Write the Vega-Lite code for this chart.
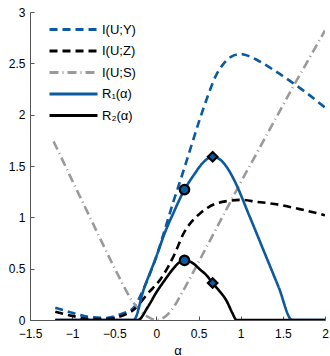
{
  "$schema": "https://vega.github.io/schema/vega-lite/v6.json",
  "autosize": {"type": "none"},
  "width": 295,
  "height": 308,
  "padding": {"left": 30, "top": 12, "right": 5, "bottom": 36},
  "config": {
    "view": {"stroke": null},
    "font": "Liberation Sans",
    "axis": {"grid": false, "domainColor": "#555555", "tickColor": "#555555", "labelColor": "#000000", "labelFontSize": 12, "titleFontSize": 13, "titleFontWeight": "normal", "tickSize": -4, "labelPadding": 8, "domainWidth": 1, "labelFlush": false}
  },
  "datasets": {
    "curves": [
      {"s": "I(U;Y)", "a": -1.2, "v": 0.12}, {"s": "I(U;Y)", "a": -1.0, "v": 0.07}, {"s": "I(U;Y)", "a": -0.8, "v": 0.03}, {"s": "I(U;Y)", "a": -0.6, "v": 0.02}, {"s": "I(U;Y)", "a": -0.45, "v": 0.05}, {"s": "I(U;Y)", "a": -0.35, "v": 0.08}, {"s": "I(U;Y)", "a": -0.27, "v": 0.12}, {"s": "I(U;Y)", "a": -0.15, "v": 0.31}, {"s": "I(U;Y)", "a": 0.0, "v": 0.62}, {"s": "I(U;Y)", "a": 0.1, "v": 0.88}, {"s": "I(U;Y)", "a": 0.2, "v": 1.15}, {"s": "I(U;Y)", "a": 0.3, "v": 1.4}, {"s": "I(U;Y)", "a": 0.4, "v": 1.66}, {"s": "I(U;Y)", "a": 0.5, "v": 1.92}, {"s": "I(U;Y)", "a": 0.6, "v": 2.16}, {"s": "I(U;Y)", "a": 0.7, "v": 2.37}, {"s": "I(U;Y)", "a": 0.8, "v": 2.5}, {"s": "I(U;Y)", "a": 0.9, "v": 2.57}, {"s": "I(U;Y)", "a": 1.0, "v": 2.59}, {"s": "I(U;Y)", "a": 1.1, "v": 2.57}, {"s": "I(U;Y)", "a": 1.2, "v": 2.53}, {"s": "I(U;Y)", "a": 1.4, "v": 2.43}, {"s": "I(U;Y)", "a": 1.6, "v": 2.32}, {"s": "I(U;Y)", "a": 1.8, "v": 2.2}, {"s": "I(U;Y)", "a": 2.0, "v": 2.07},
      {"s": "I(U;Z)", "a": -1.2, "v": 0.08}, {"s": "I(U;Z)", "a": -1.0, "v": 0.04}, {"s": "I(U;Z)", "a": -0.8, "v": 0.01}, {"s": "I(U;Z)", "a": -0.6, "v": 0.01}, {"s": "I(U;Z)", "a": -0.45, "v": 0.03}, {"s": "I(U;Z)", "a": -0.35, "v": 0.06}, {"s": "I(U;Z)", "a": -0.27, "v": 0.1}, {"s": "I(U;Z)", "a": -0.1, "v": 0.26}, {"s": "I(U;Z)", "a": 0.05, "v": 0.4}, {"s": "I(U;Z)", "a": 0.14, "v": 0.52}, {"s": "I(U;Z)", "a": 0.22, "v": 0.65}, {"s": "I(U;Z)", "a": 0.32, "v": 0.84}, {"s": "I(U;Z)", "a": 0.42, "v": 0.96}, {"s": "I(U;Z)", "a": 0.52, "v": 1.04}, {"s": "I(U;Z)", "a": 0.62, "v": 1.1}, {"s": "I(U;Z)", "a": 0.73, "v": 1.14}, {"s": "I(U;Z)", "a": 0.85, "v": 1.16}, {"s": "I(U;Z)", "a": 1.0, "v": 1.17}, {"s": "I(U;Z)", "a": 1.2, "v": 1.15}, {"s": "I(U;Z)", "a": 1.4, "v": 1.13}, {"s": "I(U;Z)", "a": 1.7, "v": 1.08}, {"s": "I(U;Z)", "a": 2.0, "v": 1.02},
      {"s": "I(U;S)", "a": -1.22, "v": 1.74}, {"s": "I(U;S)", "a": -1.0, "v": 1.36}, {"s": "I(U;S)", "a": -0.8, "v": 1.02}, {"s": "I(U;S)", "a": -0.66, "v": 0.78}, {"s": "I(U;S)", "a": -0.5, "v": 0.51}, {"s": "I(U;S)", "a": -0.4, "v": 0.35}, {"s": "I(U;S)", "a": -0.3, "v": 0.2}, {"s": "I(U;S)", "a": -0.2, "v": 0.1}, {"s": "I(U;S)", "a": -0.1, "v": 0.03}, {"s": "I(U;S)", "a": 0.0, "v": 0.0}, {"s": "I(U;S)", "a": 0.1, "v": 0.03}, {"s": "I(U;S)", "a": 0.2, "v": 0.12}, {"s": "I(U;S)", "a": 0.3, "v": 0.26}, {"s": "I(U;S)", "a": 0.4, "v": 0.41}, {"s": "I(U;S)", "a": 0.6, "v": 0.72}, {"s": "I(U;S)", "a": 0.8, "v": 1.03}, {"s": "I(U;S)", "a": 1.0, "v": 1.34}, {"s": "I(U;S)", "a": 1.2, "v": 1.64}, {"s": "I(U;S)", "a": 1.4, "v": 1.94}, {"s": "I(U;S)", "a": 1.6, "v": 2.24}, {"s": "I(U;S)", "a": 1.8, "v": 2.53}, {"s": "I(U;S)", "a": 2.0, "v": 2.82},
      {"s": "R₁(α)", "a": -1.2, "v": 0}, {"s": "R₁(α)", "a": -0.27, "v": 0}, {"s": "R₁(α)", "a": -0.15, "v": 0.3}, {"s": "R₁(α)", "a": 0.0, "v": 0.62}, {"s": "R₁(α)", "a": 0.1, "v": 0.85}, {"s": "R₁(α)", "a": 0.2, "v": 1.04}, {"s": "R₁(α)", "a": 0.333, "v": 1.27}, {"s": "R₁(α)", "a": 0.45, "v": 1.42}, {"s": "R₁(α)", "a": 0.55, "v": 1.53}, {"s": "R₁(α)", "a": 0.667, "v": 1.59}, {"s": "R₁(α)", "a": 0.76, "v": 1.56}, {"s": "R₁(α)", "a": 0.85, "v": 1.47}, {"s": "R₁(α)", "a": 0.93, "v": 1.35}, {"s": "R₁(α)", "a": 1.1, "v": 1.02}, {"s": "R₁(α)", "a": 1.27, "v": 0.68}, {"s": "R₁(α)", "a": 1.45, "v": 0.32}, {"s": "R₁(α)", "a": 1.61, "v": 0}, {"s": "R₁(α)", "a": 2.0, "v": 0},
      {"s": "R₂(α)", "a": -1.2, "v": 0}, {"s": "R₂(α)", "a": -0.22, "v": 0}, {"s": "R₂(α)", "a": -0.1, "v": 0.13}, {"s": "R₂(α)", "a": 0.0, "v": 0.27}, {"s": "R₂(α)", "a": 0.1, "v": 0.39}, {"s": "R₂(α)", "a": 0.2, "v": 0.5}, {"s": "R₂(α)", "a": 0.27, "v": 0.56}, {"s": "R₂(α)", "a": 0.333, "v": 0.58}, {"s": "R₂(α)", "a": 0.42, "v": 0.56}, {"s": "R₂(α)", "a": 0.52, "v": 0.49}, {"s": "R₂(α)", "a": 0.6, "v": 0.43}, {"s": "R₂(α)", "a": 0.667, "v": 0.36}, {"s": "R₂(α)", "a": 0.75, "v": 0.28}, {"s": "R₂(α)", "a": 0.83, "v": 0.19}, {"s": "R₂(α)", "a": 0.9, "v": 0.07}, {"s": "R₂(α)", "a": 0.95, "v": 0}, {"s": "R₂(α)", "a": 2.0, "v": 0}
    ],
    "markers": [
      {"a": 0.333, "v": 1.27, "shape": "circle"},
      {"a": 0.333, "v": 0.58, "shape": "circle"},
      {"a": 0.667, "v": 1.59, "shape": "diamond"},
      {"a": 0.667, "v": 0.36, "shape": "diamond"}
    ]
  },
  "layer": [
    {
      "data": {"name": "curves"},
      "mark": {"type": "line", "strokeWidth": 2.6, "interpolate": "monotone", "clip": true},
      "encoding": {
        "x": {"field": "a", "type": "quantitative", "scale": {"domain": [-1.5, 2], "nice": false, "zero": false}, "axis": {"values": [-1.5, -1, -0.5, 0, 0.5, 1, 1.5, 2], "format": "~g", "title": "α", "titlePadding": 5, "labelPadding": 12}},
        "y": {"field": "v", "type": "quantitative", "scale": {"domain": [0, 3], "nice": false}, "axis": {"values": [0, 0.5, 1, 1.5, 2, 2.5, 3], "format": "~g", "title": null, "labelPadding": 9}},
        "color": {"field": "s", "type": "nominal", "scale": {"domain": ["I(U;Y)", "I(U;Z)", "I(U;S)", "R₁(α)", "R₂(α)"], "range": ["#0b5aa0", "#000000", "#9a9a9a", "#0b5aa0", "#000000"]},
          "legend": {"title": null, "orient": "none", "legendX": 36, "legendY": 10, "symbolType": "M-4,0H4", "symbolSize": 144, "symbolStrokeWidth": 3, "labelFontSize": 13, "labelOffset": 21, "rowPadding": 6.5, "padding": 0}},
        "strokeDash": {"field": "s", "type": "nominal", "scale": {"domain": ["I(U;Y)", "I(U;Z)", "I(U;S)", "R₁(α)", "R₂(α)"], "range": [[8, 5], [8, 5], [9, 4, 1, 4], [1, 0], [1, 0]]}},
        "order": {"field": "s"}
      }
    },
    {
      "data": {"name": "markers"},
      "mark": {"type": "point", "filled": true, "fill": "#0b5aa0", "stroke": "#000000", "strokeWidth": 2.2, "opacity": 1, "size": 90},
      "encoding": {
        "x": {"field": "a", "type": "quantitative"},
        "y": {"field": "v", "type": "quantitative"},
        "shape": {"field": "shape", "type": "nominal", "scale": {"domain": ["circle", "diamond"], "range": ["circle", "diamond"]}, "legend": null}
      }
    }
  ]
}
